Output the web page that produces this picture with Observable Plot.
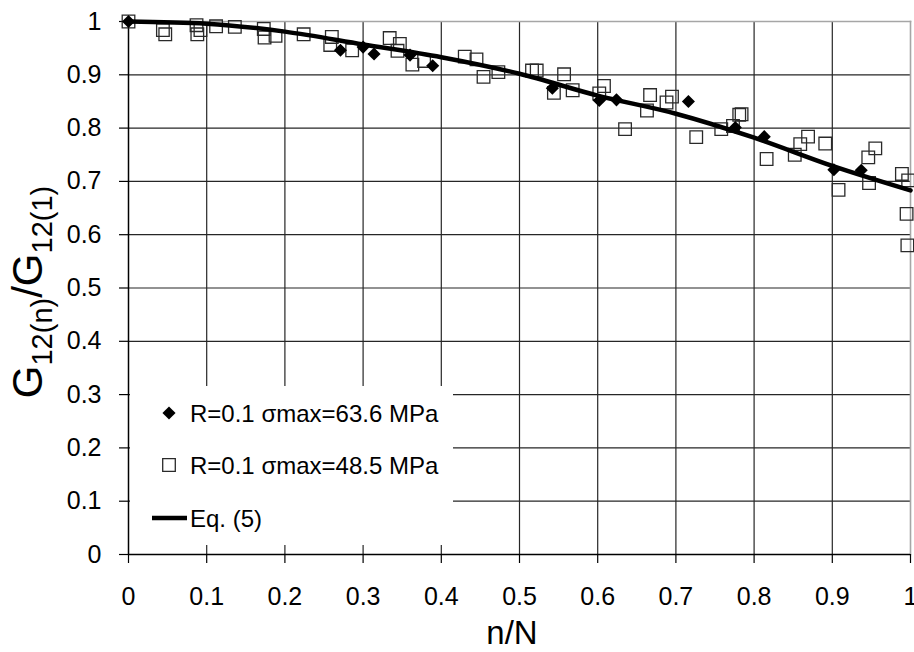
<!DOCTYPE html>
<html>
<head>
<meta charset="utf-8">
<script src="https://cdn.jsdelivr.net/npm/d3@7"></script>
<script src="https://cdn.jsdelivr.net/npm/@observablehq/plot@0.6"></script>
<style>
  html, body { margin: 0; padding: 0; background: #fff; }
  #chart { width: 914px; height: 652px; position: relative; }
</style>
</head>
<body>
<div id="chart"></div>
<script>
// ---- Data ----
// Series 1: R=0.1 σmax=63.6 MPa (filled diamonds)
const s1X = [0, 0.271, 0.300, 0.314, 0.360, 0.389, 0.542, 0.602, 0.624, 0.716, 0.776, 0.813, 0.902, 0.937];
const s1Y = [1, 0.946, 0.952, 0.939, 0.937, 0.917, 0.875, 0.852, 0.853, 0.850, 0.801, 0.784, 0.722, 0.721];

// Series 2: R=0.1 σmax=48.5 MPa (open squares)
const s2X = [0, 0.044, 0.047, 0.087, 0.088, 0.092, 0.112, 0.136, 0.173, 0.174, 0.188, 0.224, 0.260, 0.258,
  0.286, 0.334, 0.347, 0.344, 0.363, 0.378, 0.430, 0.445, 0.454, 0.473, 0.516, 0.522, 0.557, 0.544,
  0.568, 0.608, 0.602, 0.635, 0.667, 0.663, 0.688, 0.695, 0.726, 0.758, 0.773, 0.781, 0.784, 0.816,
  0.852, 0.859, 0.869, 0.891, 0.908, 0.947, 0.946, 0.955, 0.989, 0.997, 0.995, 0.996];
const s2Y = [1, 0.984, 0.976, 0.993, 0.976, 0.984, 0.991, 0.990, 0.986, 0.970, 0.973, 0.976, 0.971, 0.956,
  0.946, 0.969, 0.958, 0.945, 0.919, 0.926, 0.934, 0.929, 0.896, 0.905, 0.908, 0.908, 0.901, 0.866,
  0.871, 0.879, 0.865, 0.798, 0.862, 0.833, 0.848, 0.859, 0.783, 0.798, 0.804, 0.825, 0.826, 0.742,
  0.750, 0.770, 0.784, 0.771, 0.684, 0.697, 0.745, 0.762, 0.714, 0.702, 0.639, 0.580];

// Eq. (5) curve
const eqX = [0, 0.1, 0.2, 0.3, 0.4, 0.5, 0.6, 0.7, 0.8, 0.9, 1];
const eqY = [1, 0.996, 0.981, 0.957, 0.933, 0.902, 0.861, 0.827, 0.782, 0.729, 0.683];

// Ticks and labels
const tickValues = [0, 0.1, 0.2, 0.3, 0.4, 0.5, 0.6, 0.7, 0.8, 0.9, 1];
const tickLabels = ["0", "0.1", "0.2", "0.3", "0.4", "0.5", "0.6", "0.7", "0.8", "0.9", "1"];
const gridValues = [0.1, 0.2, 0.3, 0.4, 0.5, 0.6, 0.7, 0.8, 0.9];
const legendLabels = ["R=0.1 σmax=63.6 MPa", "R=0.1 σmax=48.5 MPa", "Eq. (5)"];
const xTitle = "n/N";

// ---- Build tables ----
const s1 = s1X.map((x, i) => ({x, y: s1Y[i]}));
const s2 = s2X.map((x, i) => ({x, y: s2Y[i]}));
const eq = eqX.map((x, i) => ({x, y: eqY[i]}));
const fmt = d => tickLabels[tickValues.findIndex(t => Math.abs(t - d) < 1e-9)];

const FONT = "'Liberation Sans', Arial, sans-serif";

const chart = Plot.plot({
  width: 914,
  height: 652,
  marginLeft: 128,
  marginRight: 4,
  marginTop: 21,
  marginBottom: 98,
  x: {domain: [0, 1], label: null},
  y: {domain: [0, 1], label: null},
  style: {fontFamily: FONT, color: "#000", background: "#fff", overflow: "visible"},
  marks: [
    Plot.gridX({ticks: gridValues, stroke: "#262626", strokeOpacity: 1, strokeWidth: 1.2}),
    Plot.gridY({ticks: gridValues, stroke: "#262626", strokeOpacity: 1, strokeWidth: 1.2}),
    Plot.frame({anchor: "top", stroke: "#a6a6a6", strokeWidth: 1.6}),
    Plot.frame({anchor: "right", stroke: "#a6a6a6", strokeWidth: 1.6}),
    Plot.axisX({ticks: tickValues, tickFormat: fmt, tickSize: 9, tickPadding: 24, fontSize: 25, label: null, stroke: "#000", strokeWidth: 1.2}),
    Plot.axisY({ticks: tickValues, tickFormat: fmt, tickSize: 9, tickPadding: 18, fontSize: 25, label: null, stroke: "#000", strokeWidth: 1.2}),
    Plot.ruleX([0], {stroke: "#000", strokeWidth: 1.5}),
    Plot.ruleY([0], {stroke: "#000", strokeWidth: 1.5}),
    Plot.dot(s2, {x: "x", y: "y", symbol: "square", r: 7.1, fill: "none", stroke: "#2a2a2a", strokeWidth: 1.3}),
    Plot.line(eq, {x: "x", y: "y", curve: "monotone-x", stroke: "#000", strokeWidth: 4.5}),
    Plot.dot(s1, {x: "x", y: "y", symbol: "diamond2", r: 5.9, fill: "#000", stroke: "none"})
  ]
});

document.getElementById("chart").appendChild(chart);

// ---- Titles and legend ----
const svg = d3.select(chart);

// x title
svg.append("text")
  .attr("x", 512).attr("y", 644)
  .attr("text-anchor", "middle")
  .attr("font-family", FONT).attr("font-size", 33).attr("fill", "#000")
  .text(xTitle);

// y title with subscripts
const yt = svg.append("text")
  .attr("transform", "translate(42,292) rotate(-90)")
  .attr("text-anchor", "middle")
  .attr("font-family", FONT).attr("font-size", 42).attr("fill", "#000");
yt.append("tspan").text("G");
yt.append("tspan").attr("font-size", 29).attr("dy", 10).text("12(n)");
yt.append("tspan").attr("dy", -10).text("/G");
yt.append("tspan").attr("font-size", 29).attr("dy", 10).text("12(1)");

// legend
const lg = svg.append("g");
lg.append("rect").attr("x", 130).attr("y", 386).attr("width", 323).attr("height", 159).attr("fill", "#fff");
const rows = [413, 465, 518];
lg.append("path")
  .attr("transform", `translate(169,${rows[0]})`)
  .attr("d", d3.symbol(d3.symbolDiamond2, Math.PI * 5.9 * 5.9)())
  .attr("fill", "#000");
lg.append("path")
  .attr("transform", `translate(169,${rows[1]})`)
  .attr("d", d3.symbol(d3.symbolSquare, Math.PI * 7.1 * 7.1)())
  .attr("fill", "none").attr("stroke", "#2a2a2a").attr("stroke-width", 1.3);
lg.append("line")
  .attr("x1", 152).attr("x2", 187).attr("y1", rows[2]).attr("y2", rows[2])
  .attr("stroke", "#000").attr("stroke-width", 4.5);
legendLabels.forEach((t, i) => {
  lg.append("text")
    .attr("x", 190).attr("y", rows[i])
    .attr("dy", "0.36em")
    .attr("text-anchor", "start")
    .attr("font-family", FONT).attr("font-size", 24).attr("fill", "#000")
    .text(t);
});
</script>
</body>
</html>
